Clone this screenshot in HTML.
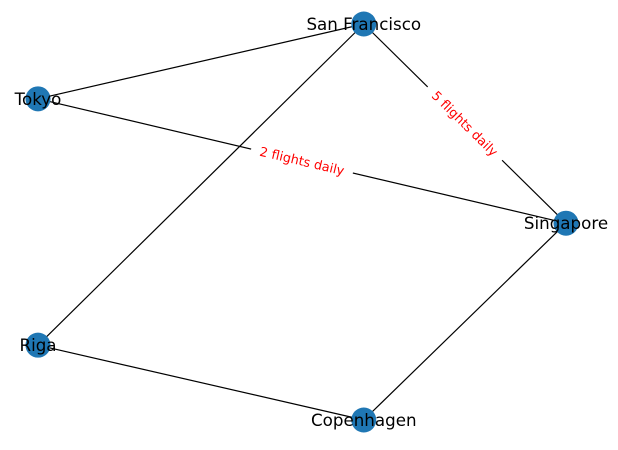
<!DOCTYPE html>
<html><head><meta charset="utf-8"><style>
html,body{margin:0;padding:0;background:#fff;}
svg{display:block;font-family:"DejaVu Sans","Liberation Sans",sans-serif;}
</style></head><body>
<svg id="chart" width="618" height="450" viewBox="0 0 618 450"></svg>
<script>
const nodeNames = ["San Francisco","Tokyo","Singapore","Riga","Copenhagen"];
const nodeX = [0.617, 0.0, 1.0, 0.0, 0.617];
const nodeY = [1.0, 0.811, 0.497, 0.189, 0.0];
const edgeFrom = ["San Francisco","San Francisco","San Francisco","Tokyo","Riga","Copenhagen"];
const edgeTo   = ["Tokyo","Riga","Singapore","Singapore","Copenhagen","Singapore"];
const edgeLabels = ["","","5 flights daily","2 flights daily","",""];

const NS="http://www.w3.org/2000/svg";
const svg=document.getElementById('chart');
const sx=v=>38+v*(566-38)/1.0;
const sy=v=>420-v*(420-24)/1.0;
function mk(t,a){const e=document.createElementNS(NS,t);for(const k in a)e.setAttribute(k,a[k]);return e;}
const idx=n=>nodeNames.indexOf(n);
const gE=mk('g',{});


svg.appendChild(gE);
edgeFrom.forEach((f,i)=>{
  const a=idx(f),b=idx(edgeTo[i]);
  const l=mk('line',{x1:sx(nodeX[a]),y1:sy(nodeY[a]),x2:sx(nodeX[b]),y2:sy(nodeY[b]),stroke:'#000','stroke-width':1.2});
  
  
  gE.appendChild(l);
});
nodeNames.forEach((n,i)=>{
  const c=mk('circle',{cx:sx(nodeX[i]),cy:sy(nodeY[i]),r:12.5,fill:'#1f77b4'});
  
  
  svg.appendChild(c);
});
edgeFrom.forEach((f,i)=>{
  if(!edgeLabels[i])return;
  const a=idx(f),b=idx(edgeTo[i]);
  const x1=sx(nodeX[a]),y1=sy(nodeY[a]),x2=sx(nodeX[b]),y2=sy(nodeY[b]);
  const mx=(x1+x2)/2,my=(y1+y2)/2;
  let ang=Math.atan2(y2-y1,x2-x1)*180/Math.PI;
  if(ang>90)ang-=180; if(ang<-90)ang+=180;
  const g=mk('g',{transform:`translate(${mx},${my}) rotate(${ang})`});
  
  
  const w=edgeLabels[i].length*6.7+4;
  g.appendChild(mk('rect',{x:-w/2,y:-8,width:w,height:16,fill:'#fff'}));
  const t=mk('text',{x:0,y:4.5,'text-anchor':'middle','font-size':12.8,fill:'red'});
  t.textContent=edgeLabels[i];
  g.appendChild(t);
  svg.appendChild(g);
});
nodeNames.forEach((n,i)=>{
  const t=mk('text',{x:sx(nodeX[i]),y:sy(nodeY[i])+6,'text-anchor':'middle','font-size':16.7,fill:'#000'});
  
  
  t.textContent=n;
  svg.appendChild(t);
});
</script>
</body></html>
